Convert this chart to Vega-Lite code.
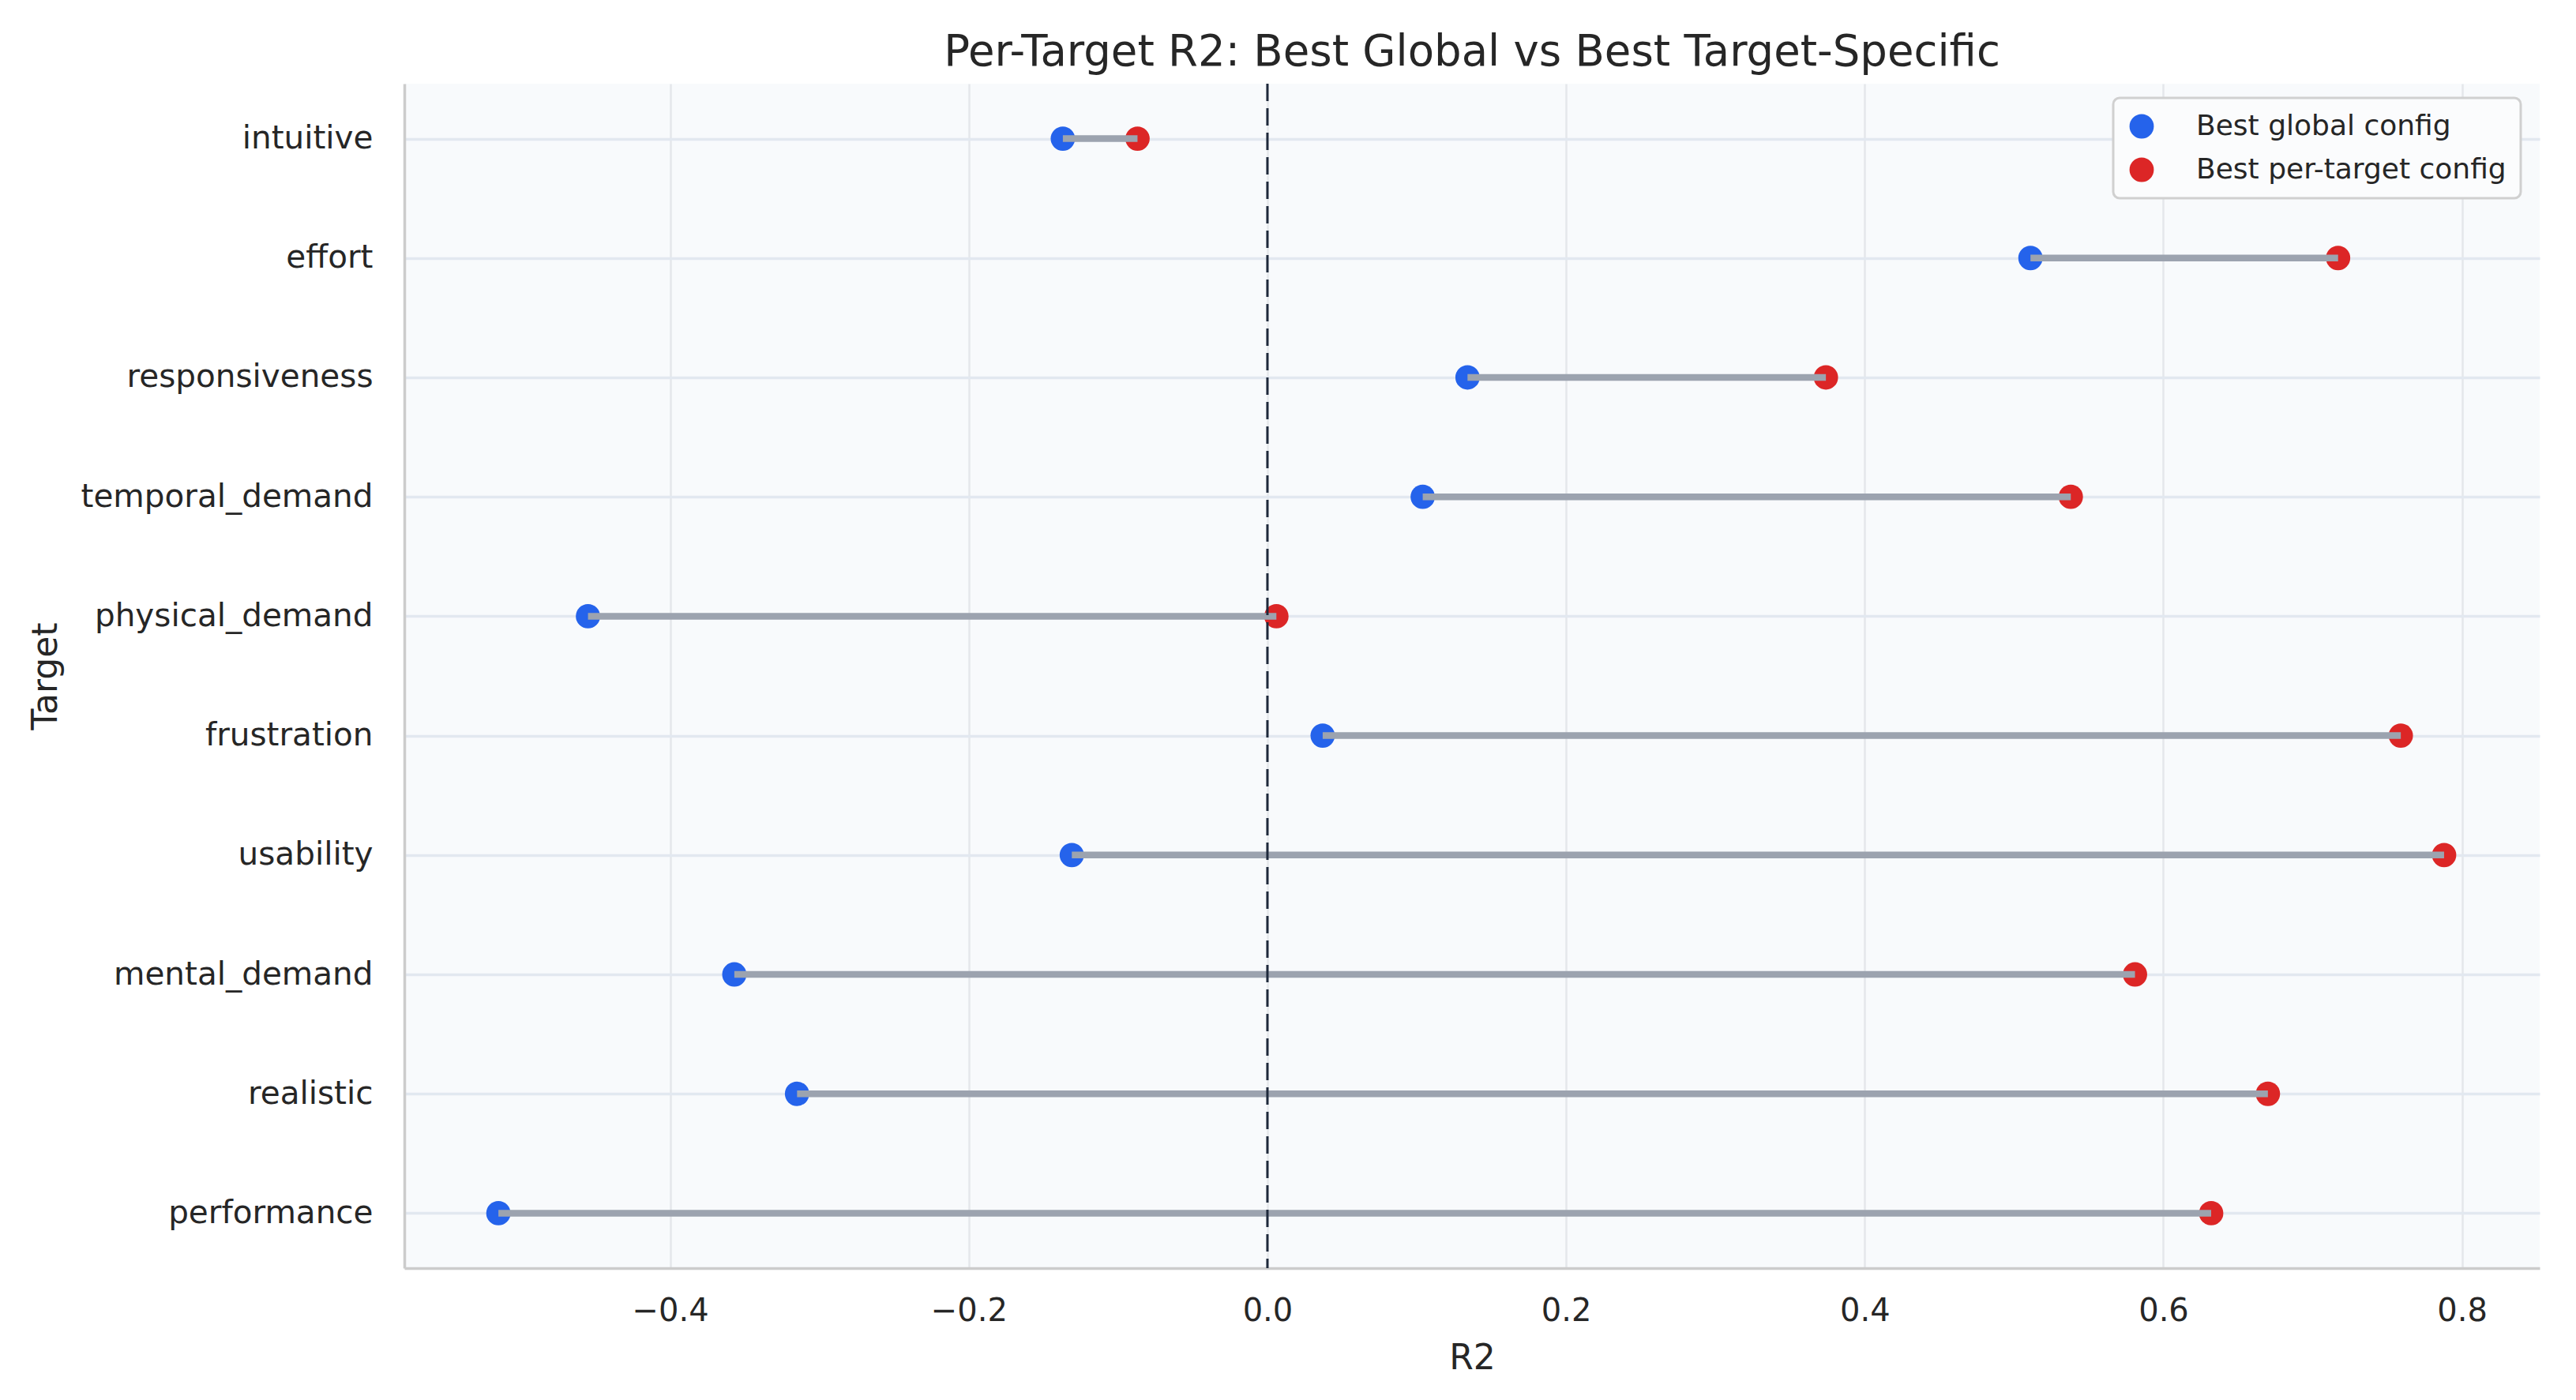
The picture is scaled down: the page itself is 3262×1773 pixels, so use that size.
{
  "$schema": "https://vega.github.io/schema/vega-lite/v6.json",
  "width": 2704,
  "height": 1500,
  "autosize": {"type": "none"},
  "padding": {"left": 512, "top": 106, "right": 46, "bottom": 167},
  "background": "white",
  "title": {
    "text": "Per-Target R2: Best Global vs Best Target-Specific",
    "fontSize": 54.5,
    "fontWeight": "normal",
    "font": "DejaVu Sans",
    "color": "#262626",
    "anchor": "middle",
    "frame": "group",
    "offset": 10
  },
  "datasets": {
    "r2": [
      {"target": "intuitive", "global": -0.137, "best": -0.087},
      {"target": "effort", "global": 0.511, "best": 0.717},
      {"target": "responsiveness", "global": 0.134, "best": 0.374},
      {"target": "temporal_demand", "global": 0.104, "best": 0.538},
      {"target": "physical_demand", "global": -0.455, "best": 0.006},
      {"target": "frustration", "global": 0.037, "best": 0.759},
      {"target": "usability", "global": -0.131, "best": 0.788},
      {"target": "mental_demand", "global": -0.357, "best": 0.581},
      {"target": "realistic", "global": -0.315, "best": 0.670},
      {"target": "performance", "global": -0.515, "best": 0.632}
    ]
  },
  "layer": [
    {
      "data": {"name": "r2"},
      "transform": [
        {"fold": ["global", "best"], "as": ["kind", "r2"]},
        {"lookup": "kind", "from": {"data": {"values": [
          {"kind": "global", "series": "Best global config"},
          {"kind": "best", "series": "Best per-target config"}
        ]}, "key": "kind", "fields": ["series"]}}
      ],
      "mark": {"type": "circle", "size": 950, "opacity": 1},
      "encoding": {
        "x": {"field": "r2", "type": "quantitative"},
        "y": {"field": "target", "type": "nominal"},
        "color": {
          "field": "series",
          "type": "nominal",
          "scale": {
            "domain": ["Best global config", "Best per-target config"],
            "range": ["#2563eb", "#dc2626"]
          },
          "legend": {
            "title": null,
            "orient": "none",
            "legendX": 2164,
            "legendY": 18,
            "symbolType": "circle",
            "symbolSize": 950,
            "symbolStrokeWidth": 0,
            "symbolOpacity": 1,
            "labelFontSize": 36,
            "labelFont": "DejaVu Sans",
            "labelColor": "#262626",
            "labelLimit": 0,
            "labelOffset": 51,
            "rowPadding": 19,
            "padding": 18,
            "fillColor": "#fbfcfd",
            "strokeColor": "#d0d0d0",
            "cornerRadius": 8,
            "encode": {"legend": {"update": {"strokeWidth": {"value": 3}}}}
          }
        }
      }
    },
    {
      "data": {"name": "r2"},
      "mark": {"type": "rule", "color": "#9ca3af", "strokeWidth": 8.5},
      "encoding": {
        "x": {"field": "global", "type": "quantitative"},
        "x2": {"field": "best"},
        "y": {"field": "target", "type": "nominal"}
      }
    },
    {
      "data": {"values": [{"zero": 0}]},
      "mark": {"type": "rule", "color": "#1e293b", "strokeWidth": 3, "strokeDash": [22, 9]},
      "encoding": {
        "x": {"field": "zero", "type": "quantitative"}
      }
    }
  ],
  "encoding": {
    "x": {
      "type": "quantitative",
      "scale": {"domain": [-0.578, 0.852], "nice": false, "zero": false},
      "axis": {
        "title": "R2",
        "values": [-0.4, -0.2, 0, 0.2, 0.4, 0.6, 0.8],
        "format": ".1f",
        "grid": true,
        "gridColor": "#e5e7eb",
        "gridWidth": 2.5,
        "ticks": false,
        "labelPadding": 34,
        "titlePadding": 18
      }
    },
    "y": {
      "type": "nominal",
      "scale": {
        "type": "point",
        "padding": 0.46,
        "domain": ["intuitive", "effort", "responsiveness", "temporal_demand", "physical_demand", "frustration", "usability", "mental_demand", "realistic", "performance"]
      },
      "axis": {
        "title": "Target",
        "grid": true,
        "gridColor": "#e2e8f0",
        "gridWidth": 3.5,
        "ticks": false,
        "labelLimit": 0,
        "labelFontSize": 40.5,
        "labelPadding": 40,
        "titleX": -432,
        "titleY": 750,
        "titleAngle": 270,
        "titleBaseline": "bottom",
        "titleAlign": "center"
      }
    }
  },
  "config": {
    "view": {"fill": "#f8fafc", "stroke": null},
    "axis": {
      "labelFont": "DejaVu Sans",
      "titleFont": "DejaVu Sans",
      "labelFontSize": 40,
      "titleFontSize": 44,
      "labelColor": "#262626",
      "titleColor": "#262626",
      "titleFontWeight": "normal",
      "domainColor": "#cccccc",
      "domainWidth": 3.5
    }
  }
}
